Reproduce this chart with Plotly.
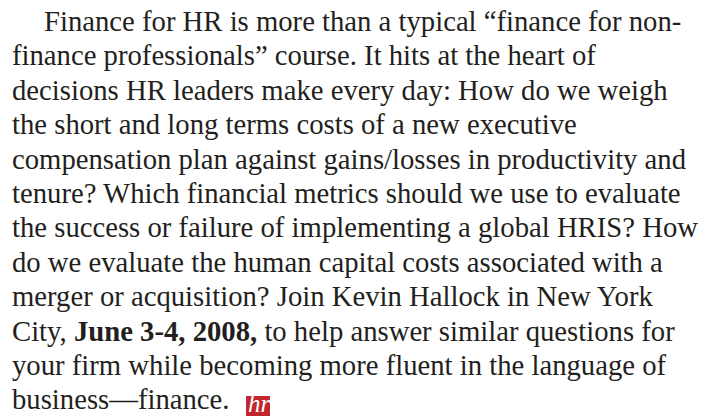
import plotly.graph_objects as go

lines = [
    "Finance for HR is more than a typical “finance for non-",
    "finance professionals” course. It hits at the heart of",
    "decisions HR leaders make every day: How do we weigh",
    "the short and long terms costs of a new executive",
    "compensation plan against gains/losses in productivity and",
    "tenure? Which financial metrics should we use to evaluate",
    "the success or failure of implementing a global HRIS? How",
    "do we evaluate the human capital costs associated with a",
    "merger or acquisition? Join Kevin Hallock in New York",
    "City, <b>June 3-4, 2008,</b> to help answer similar questions for",
    "your firm while becoming more fluent in the language of",
    "business—finance.",
]
line_x = [42, 10, 10, 10, 10, 10, 10, 10, 10, 10, 10, 10]

W, H = 709, 416
OFF = 8  # page body margin
FONT = "Liberation Serif"
SIZE = 28.7
COLOR = "#231f20"
BASE0 = 32
STEP = 34.4

fig = go.Figure()
for i, (t, x) in enumerate(zip(lines, line_x)):
    fig.add_annotation(x=x, y=BASE0 + i * STEP - 11, text=t, xref="x", yref="y",
                       xanchor="left", yanchor="middle", showarrow=False,
                       font=dict(family=FONT, size=SIZE, color=COLOR))

# hr logo
fig.add_shape(type="rect", x0=246, x1=270, y0=396, y1=418, xref="x", yref="y",
              fillcolor="#c1272d", line=dict(width=0), layer="below")
fig.add_annotation(x=259, y=403, text="<i>hr</i>", xref="x", yref="y",
                   xanchor="center", yanchor="middle", showarrow=False,
                   font=dict(family=FONT, size=25, color="white"))

fig.update_xaxes(range=[OFF, W + OFF], visible=False, fixedrange=True)
fig.update_yaxes(range=[H + OFF, OFF], visible=False, fixedrange=True)
fig.update_layout(width=W, height=H, margin=dict(l=0, r=0, t=0, b=0),
                  paper_bgcolor="white", plot_bgcolor="white", showlegend=False)
fig.write_html("out.html")
